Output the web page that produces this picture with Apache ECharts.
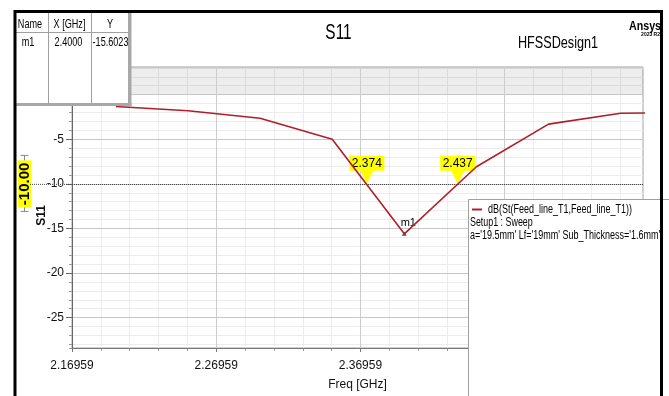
<!DOCTYPE html>
<html>
<head>
<meta charset="utf-8">
<title>S11</title>
<script src="https://cdn.jsdelivr.net/npm/echarts@6/dist/echarts.min.js"></script>
<style>
  html, body { margin: 0; padding: 0; background: #fff; }
  #chart { width: 669px; height: 396px; }
</style>
</head>
<body>
<div id="chart"></div>
<script>
// Return-loss sweep of the patch feed line
const freqGHz = [2.20, 2.25, 2.30, 2.35, 2.40, 2.45, 2.50, 2.55, 2.60];
const s11dB   = [-1.32, -1.81, -2.64, -5.00, -15.6023, -8.08, -3.30, -2.09, -2.00];

// Axis extents and tick positions
const xRange = [2.16959, 2.5655];
const yRange = [-28.4, 3.1];
const freqMajorTicks = [2.16959, 2.26959, 2.36959, 2.46959];
const freqMinorTicks = [2.16959, 2.18959, 2.20959, 2.22959, 2.24959, 2.26959, 2.28959,
  2.30959, 2.32959, 2.34959, 2.36959, 2.38959, 2.40959, 2.42959, 2.44959, 2.46959,
  2.48959, 2.50959, 2.52959, 2.54959];

// Marker, -10 dB threshold and its crossing frequencies
const markerName = 'm1';
const markerFreq = 2.40;
const markerValue = -15.6023;
const threshold = -10;
const crossings = [2.374, 2.437];

// Text content
const titleText = 'S11';
const designText = 'HFSSDesign1';
const traceName = 'dB(St(Feed_line_T1,Feed_line_T1))';
const setupName = 'Setup1 : Sweep';
const variation = "a='19.5mm' Lf='19mm' Sub_Thickness='1.6mm'";
const tableHeader = ['Name', 'X [GHz]', 'Y'];

const SANS = "'Liberation Sans', Arial, sans-serif";
const lineColor = '#b01e2a';

const chart = echarts.init(document.getElementById('chart'), null, { renderer: 'canvas' });

const calloutPath = 'path://M0,0 H35 V15 H24 L17.5,28 L11,15 H0 Z';

const option = {
  backgroundColor: '#ffffff',
  animation: false,
  grid: {
    left: 72, right: 26, top: 67, bottom: 43,
    show: true, borderColor: '#a3a3a3', borderWidth: 1, backgroundColor: 'transparent'
  },
  xAxis: [
    {
      type: 'value', position: 'bottom', min: xRange[0], max: xRange[1],
      axisLine: { show: true, onZero: false, lineStyle: { color: '#777', width: 1 } },
      axisTick: { show: true, length: 4, customValues: freqMajorTicks, lineStyle: { color: '#777' } },
      axisLabel: {
        customValues: freqMajorTicks,
        formatter: v => v.toFixed(5), fontFamily: SANS, fontSize: 12, color: '#111',
        margin: 12
      },
      splitLine: { show: true, lineStyle: { color: '#cdcdcd', width: 1 } },
      name: 'Freq [GHz]', nameLocation: 'middle', nameGap: 31, nameMoveOverlap: false,
      nameTextStyle: { fontFamily: SANS, fontSize: 12, color: '#111' },
      z: 3
    },
    {
      type: 'value', position: 'bottom', min: xRange[0], max: xRange[1],
      axisLine: { show: false, onZero: false },
      axisTick: { show: true, length: 3, customValues: freqMinorTicks, lineStyle: { color: '#999' } },
      axisLabel: { show: false },
      splitLine: { show: true, lineStyle: { color: '#ececec', width: 1 } },
      z: 1
    }
  ],
  yAxis: [
    {
      type: 'value', position: 'left', min: yRange[0], max: yRange[1],
      minInterval: 5, maxInterval: 5,
      axisLine: { show: true, onZero: false, lineStyle: { color: '#666', width: 1 } },
      axisTick: { show: true, length: 6, lineStyle: { color: '#666' } },
      axisLabel: {
        formatter: v => (Math.abs(v % 5) < 1e-9 && v !== 0) ? String(v) : '',
        fontFamily: SANS, fontSize: 12, color: '#111', margin: 8,
        showMinLabel: false, showMaxLabel: false
      },
      splitLine: { show: true, lineStyle: { color: '#c6c6c6', width: 1 } },
      name: 'S11', nameLocation: 'middle', nameGap: 24, nameRotate: 90, nameMoveOverlap: false,
      nameTextStyle: { fontFamily: SANS, fontSize: 12, fontWeight: 'bold', color: '#111', padding: [0, 16, 0, 0] },
      z: 3
    },
    {
      type: 'value', position: 'left', min: yRange[0], max: yRange[1],
      minInterval: 1, maxInterval: 1,
      axisLine: { show: false, onZero: false },
      axisTick: { show: true, length: 3, lineStyle: { color: '#999' } },
      axisLabel: { show: false },
      splitLine: { show: true, lineStyle: { color: '#ececec', width: 1 } },
      z: 1
    }
  ],
  series: [
    {
      name: traceName,
      type: 'line',
      xAxisIndex: 0, yAxisIndex: 0,
      data: freqGHz.map((f, i) => [f, s11dB[i]]),
      showSymbol: false,
      lineStyle: { color: lineColor, width: 1.6 },
      itemStyle: { color: lineColor },
      clip: true,
      z: 5,
      markArea: {
        silent: true,
        itemStyle: { color: 'rgba(0,0,0,0.07)' },
        data: [[{ yAxis: 0 }, { yAxis: yRange[1] }]]
      },
      markLine: {
        silent: true,
        symbol: ['none', 'none'],
        label: { show: false },
        lineStyle: { type: 'dotted', color: '#444', width: 1 },
        data: [{ yAxis: threshold }]
      },
      markPoint: {
        silent: true,
        data: crossings.map(f => ({
          coord: [f, threshold],
          value: f.toFixed(3),
          symbol: calloutPath,
          symbolSize: [35, 28],
          symbolOffset: [0, -14],
          itemStyle: { color: '#ffff00' },
          label: {
            show: true, position: 'inside', offset: [0, -6.5],
            formatter: p => p.value, fontFamily: SANS, fontSize: 12, color: '#000'
          }
        })).concat([{
          coord: [markerFreq, markerValue],
          value: markerName,
          symbol: 'triangle',
          symbolSize: [5, 4],
          itemStyle: { color: '#555' },
          label: {
            show: true, position: 'top', offset: [4, 0], distance: 3,
            formatter: p => p.value, fontFamily: SANS, fontSize: 11, color: '#000'
          }
        }])
      }
    }
  ]
};

chart.setOption(option);

// Decorations placed through the chart's own coordinate mapping
const py = chart.convertToPixel({ yAxisIndex: 0 }, threshold);
const gx0 = chart.convertToPixel({ xAxisIndex: 0 }, xRange[0]);
const Z = 100;

function txt(x, y, str, font, opt) {
  opt = opt || {};
  const align = opt.align || 'left';
  return {
    type: 'text', x: x, y: y, z: Z + 5,
    scaleX: opt.sx || 1, rotation: opt.rot || 0,
    style: {
      text: str, font: font, fill: opt.fill || '#000',
      align: align, verticalAlign: 'middle',
      textAlign: align, textVerticalAlign: 'middle'
    }
  };
}
function seg(x1, y1, x2, y2, color, w, dash) {
  return {
    type: 'line', z: Z + 3,
    shape: { x1: x1, y1: y1, x2: x2, y2: y2 },
    style: { stroke: color, lineWidth: w || 1, lineDash: dash || null }
  };
}
function box(x, y, w, h, fill, stroke, z) {
  return {
    type: 'rect', z: z || Z,
    shape: { x: x, y: y, width: w, height: h },
    style: { fill: fill, stroke: stroke || null, lineWidth: 1 }
  };
}

const tableFont = "13px 'Liberation Sans', Arial, sans-serif";
const g = [
  // threshold marker at the left of the value axis
  seg(30, py + 0.5, gx0, py + 0.5, '#444', 1, [1, 1]),
  box(18, py - 23.5, 13, 47, '#ffff00', null, Z + 2),
  txt(24.5, py, threshold.toFixed(2), "bold 15px 'Liberation Sans', Arial, sans-serif", { align: 'center', rot: Math.PI / 2 }),
  seg(24.5, py - 28.5, 24.5, py - 23.5, '#888', 1),
  seg(20.5, py - 28.5, 28.5, py - 28.5, '#888', 1),
  seg(24.5, py + 23.5, 24.5, py + 27.5, '#888', 1),
  seg(20.5, py + 27.5, 28.5, py + 27.5, '#888', 1),

  // marker table
  box(16, 13, 114, 91, '#ffffff', null, Z),
  seg(48.5, 13, 48.5, 104, '#a0a0a0', 1),
  seg(91.5, 13, 91.5, 104, '#a0a0a0', 1),
  seg(16, 32.5, 129, 32.5, '#a0a0a0', 1),
  box(128, 13, 3.5, 93, '#a8a8a8', null, Z + 1),
  box(16, 103, 115.5, 3, '#a8a8a8', null, Z + 1),
  txt(30, 24.5, tableHeader[0], tableFont, { align: 'center', sx: 0.7 }),
  txt(69.5, 24.5, tableHeader[1], tableFont, { align: 'center', sx: 0.7 }),
  txt(110, 24.5, tableHeader[2], tableFont, { align: 'center', sx: 0.7 }),
  txt(28, 42, markerName, tableFont, { align: 'center', sx: 0.7 }),
  txt(68.5, 42, markerFreq.toFixed(4), tableFont, { align: 'center', sx: 0.7 }),
  txt(110.5, 42, markerValue.toFixed(4), tableFont, { align: 'center', sx: 0.7 }),

  // titles
  txt(338.5, 33, titleText, "22px 'Liberation Sans', Arial, sans-serif", { align: 'center', sx: 0.7 }),
  txt(558, 43.5, designText, "16px 'Liberation Sans', Arial, sans-serif", { align: 'center', sx: 0.79 }),
  txt(661, 26, 'Ansys', "bold 13px 'Liberation Sans', Arial, sans-serif", { align: 'right', sx: 0.82 }),
  txt(660, 35, '2023 R2', "bold 5px 'Liberation Sans', Arial, sans-serif", { align: 'right' }),

  // legend box
  box(468.5, 199.5, 220, 220, '#ffffff', '#a0a0a0', Z),
  seg(472, 209.5, 482, 209.5, lineColor, 2),
  txt(488, 209.5, traceName, "12px 'Liberation Sans', Arial, sans-serif", { sx: 0.75 }),
  txt(470, 223, setupName, "12px 'Liberation Sans', Arial, sans-serif", { sx: 0.74 }),
  txt(470, 236, variation, "12px 'Liberation Sans', Arial, sans-serif", { sx: 0.75 }),

  // window frame
  {
    type: 'rect', z: Z + 20,
    shape: { x: 15, y: 11.5, width: 646.5, height: 420 },
    style: { fill: null, stroke: '#000', lineWidth: 3 }
  }
];

chart.setOption({ graphic: { elements: g } });
</script>
</body>
</html>
